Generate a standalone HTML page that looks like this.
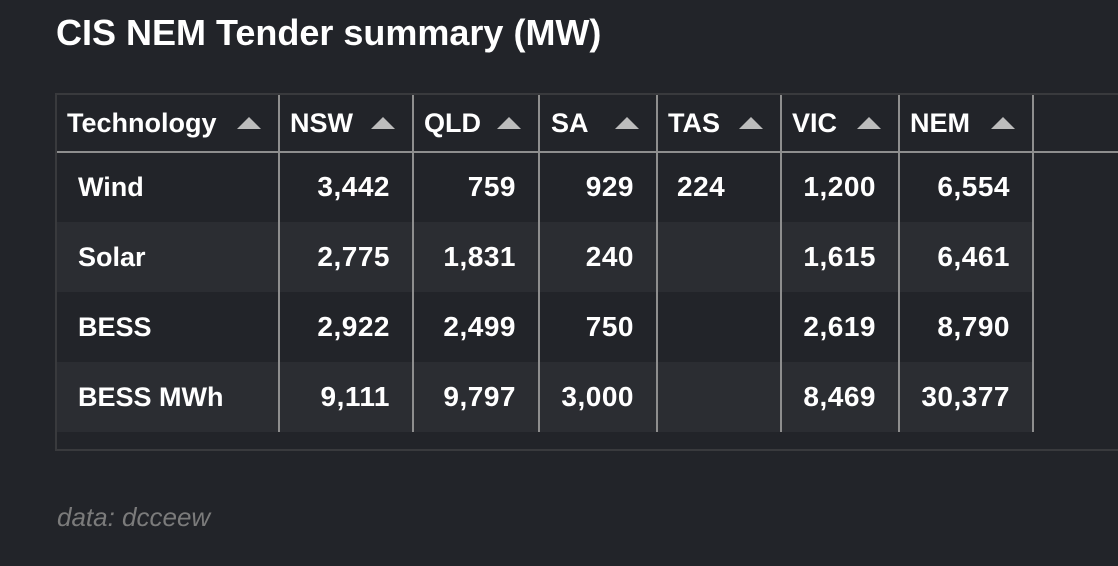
<!DOCTYPE html>
<html>
<head>
<meta charset="utf-8">
<style>
  html, body { margin:0; padding:0; }
  body {
    width:1118px; height:566px; overflow:hidden; position:relative;
    background:#222429;
    font-family:"Liberation Sans", Arial, sans-serif;
    color:#fff;
  }
  .abs { position:absolute; }
  .title { left:56px; top:11px; height:44px; line-height:44px; font-size:36px; font-weight:bold; white-space:nowrap; }
  .border-top { left:55px; top:93px; width:1063px; height:2px; background:#393a3d; }
  .border-left { left:55px; top:93px; width:2px; height:358px; background:#393a3d; }
  .border-bot { left:55px; top:449px; width:1063px; height:2px; background:#393a3d; }
  .hline { left:57px; top:151px; width:1061px; height:2px; background:#8e8e8e; }
  .vline { top:95px; width:2px; height:337px; background:#8e8e8e; }
  .rowbg { left:57px; width:975px; height:70px; background:#2b2d32; }
  .h { top:95px; height:56px; line-height:56px; font-size:27px; font-weight:bold; white-space:nowrap; }
  .tri { top:117px; width:0; height:0; border-left:12px solid transparent; border-right:12px solid transparent; border-bottom:12px solid #bdbdbd; }
  .c { height:70px; line-height:70px; font-size:27px; font-weight:bold; white-space:nowrap; }
  .n { height:70px; line-height:70px; font-size:28px; font-weight:bold; white-space:nowrap; text-align:right; letter-spacing:0.5px; width:120px; }
  .foot { left:57px; top:502px; height:30px; line-height:30px; font-size:26px; font-style:italic; color:#7b7b7b; white-space:nowrap; }
</style>
</head>
<body>
  <div class="abs title">CIS NEM Tender summary (MW)</div>

  <!-- alternating row backgrounds -->
  <div class="abs rowbg" style="top:222px;"></div>
  <div class="abs rowbg" style="top:362px;"></div>

  <!-- borders -->
  <div class="abs border-top"></div>
  <div class="abs border-left"></div>
  <div class="abs border-bot"></div>
  <div class="abs hline"></div>

  <!-- vertical dividers -->
  <div class="abs vline" style="left:278px;"></div>
  <div class="abs vline" style="left:412px;"></div>
  <div class="abs vline" style="left:538px;"></div>
  <div class="abs vline" style="left:656px;"></div>
  <div class="abs vline" style="left:780px;"></div>
  <div class="abs vline" style="left:898px;"></div>
  <div class="abs vline" style="left:1032px;"></div>

  <!-- header -->
  <div class="abs h" style="left:67px;">Technology</div>
  <div class="abs tri" style="left:237px;"></div>
  <div class="abs h" style="left:290px;">NSW</div>
  <div class="abs tri" style="left:371px;"></div>
  <div class="abs h" style="left:424px;">QLD</div>
  <div class="abs tri" style="left:497px;"></div>
  <div class="abs h" style="left:551px;">SA</div>
  <div class="abs tri" style="left:615px;"></div>
  <div class="abs h" style="left:668px;">TAS</div>
  <div class="abs tri" style="left:739px;"></div>
  <div class="abs h" style="left:792px;">VIC</div>
  <div class="abs tri" style="left:857px;"></div>
  <div class="abs h" style="left:910px;">NEM</div>
  <div class="abs tri" style="left:991px;"></div>

  <!-- Row: Wind -->
  <div class="abs c" style="left:78px; top:152px;">Wind</div>
  <div class="abs n" style="left:270px; top:152px;">3,442</div>
  <div class="abs n" style="left:396px; top:152px;">759</div>
  <div class="abs n" style="left:514px; top:152px;">929</div>
  <div class="abs c" style="left:677px; top:152px; font-size:28px; letter-spacing:0.5px;">224</div>
  <div class="abs n" style="left:756px; top:152px;">1,200</div>
  <div class="abs n" style="left:890px; top:152px;">6,554</div>

  <!-- Row: Solar -->
  <div class="abs c" style="left:78px; top:222px;">Solar</div>
  <div class="abs n" style="left:270px; top:222px;">2,775</div>
  <div class="abs n" style="left:396px; top:222px;">1,831</div>
  <div class="abs n" style="left:514px; top:222px;">240</div>
  <div class="abs n" style="left:756px; top:222px;">1,615</div>
  <div class="abs n" style="left:890px; top:222px;">6,461</div>

  <!-- Row: BESS -->
  <div class="abs c" style="left:78px; top:292px;">BESS</div>
  <div class="abs n" style="left:270px; top:292px;">2,922</div>
  <div class="abs n" style="left:396px; top:292px;">2,499</div>
  <div class="abs n" style="left:514px; top:292px;">750</div>
  <div class="abs n" style="left:756px; top:292px;">2,619</div>
  <div class="abs n" style="left:890px; top:292px;">8,790</div>

  <!-- Row: BESS MWh -->
  <div class="abs c" style="left:78px; top:362px;">BESS MWh</div>
  <div class="abs n" style="left:270px; top:362px;">9,111</div>
  <div class="abs n" style="left:396px; top:362px;">9,797</div>
  <div class="abs n" style="left:514px; top:362px;">3,000</div>
  <div class="abs n" style="left:756px; top:362px;">8,469</div>
  <div class="abs n" style="left:890px; top:362px;">30,377</div>

  <div class="abs foot">data: dcceew</div>
</body>
</html>
